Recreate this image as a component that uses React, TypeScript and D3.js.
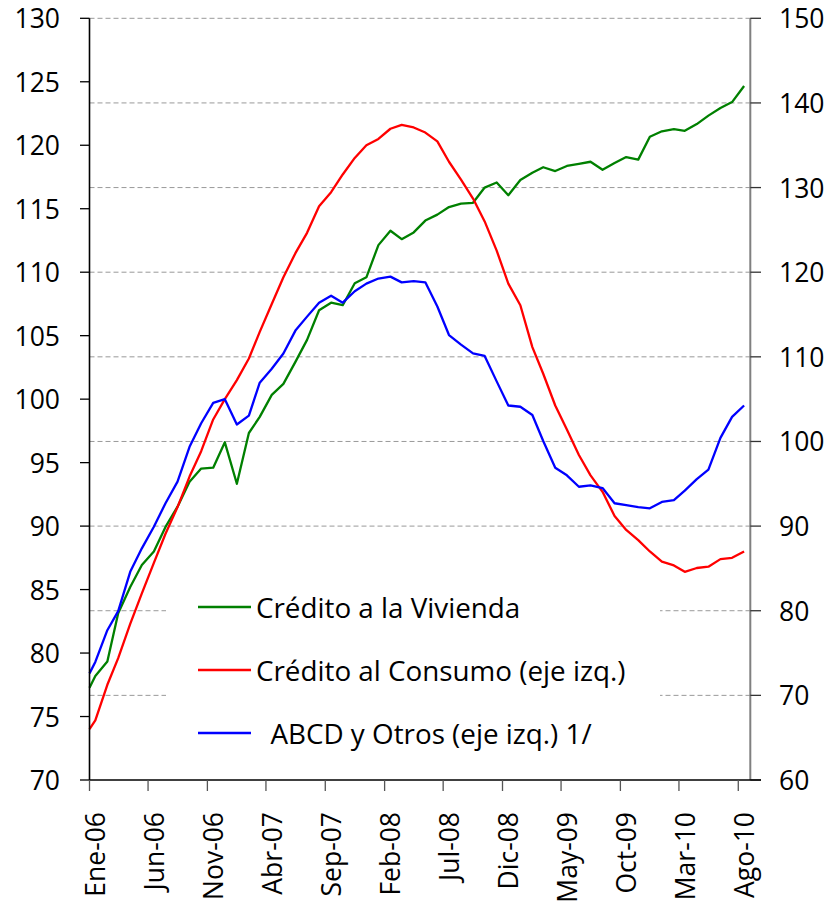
import * as d3 from "d3"

// Índices (base 100), mensual Ene-06 a Ago-10
const viviendaData = [
  70.9, 72.3, 74.0, 79.7, 82.8, 85.4, 87.0, 89.9, 92.3, 95.25, 96.8, 96.9, 99.9, 95.0, 101.0, 102.9,
  105.5, 106.8, 109.4, 112.0, 115.5, 116.4, 116.1, 118.7, 119.4, 123.2, 124.9, 123.9, 124.7, 126.1,
  126.8, 127.7, 128.1, 128.2, 130.0, 130.6, 129.1, 130.9, 131.75, 132.4, 131.95, 132.55, 132.8,
  133.05, 132.1, 132.9, 133.6, 133.3, 136.0, 136.65, 136.9, 136.7, 137.5, 138.5, 139.4, 140.1, 142.0,
]
const consumoData = [
  74.0, 74.7, 77.5, 79.6, 82.3, 84.7, 87.1, 89.4, 91.5, 93.9, 95.9, 98.4, 100.0, 101.5, 103.2, 105.3,
  107.5, 109.6, 111.5, 113.1, 115.2, 116.3, 117.7, 119.0, 120.0, 120.5, 121.3, 121.6, 121.4, 121.0,
  120.3, 118.7, 117.3, 115.8, 114.0, 111.7, 109.1, 107.4, 104.1, 102.0, 99.5, 97.6, 95.6, 94.0, 92.7,
  90.8, 89.7, 88.9, 88.0, 87.2, 86.9, 86.4, 86.7, 86.8, 87.4, 87.5, 88.0,
]
const abcdData = [
  78.4, 79.3, 81.8, 83.3, 86.4, 88.25, 89.95, 91.8, 93.5, 96.25, 98.1, 99.7, 100.0, 98.0, 98.7, 101.3,
  102.4, 103.6, 105.4, 106.5, 107.6, 108.15, 107.6, 108.5, 109.1, 109.5, 109.65, 109.2, 109.3, 109.2,
  107.3, 105.05, 104.3, 103.6, 103.4, 101.4, 99.5, 99.4, 98.75, 96.7, 94.6, 94.0, 93.1, 93.2, 93.0,
  91.8, 91.66, 91.5, 91.4, 91.9, 92.05, 92.8, 93.7, 94.45, 96.95, 98.6, 99.5,
]

const mesesAbrev = ["Ene", "Feb", "Mar", "Abr", "May", "Jun", "Jul", "Ago", "Sep", "Oct", "Nov", "Dic"]

const seriesNames = ["Crédito a la Vivienda", "Crédito al Consumo (eje izq.)", "  ABCD y Otros (eje izq.) 1/"]
const seriesColors = ["#008000", "#ff0000", "#0000ff"]

const leftTicks = d3.range(70, 131, 5)
const rightTicks = d3.range(60, 151, 10)

const inicio = new Date(2006, 0, 1)
const fin = new Date(2010, 8, 1)
// primer dato al inicio del eje, luego a mitad de cada mes
const fechas = [inicio, ...d3.timeMonth.range(inicio, fin).map((d) => d3.timeDay.offset(d, 15))]

const W = 831
const H = 910
const FONT = "'Open Sans', sans-serif"

export default function App() {
  const x = d3.scaleTime().domain([inicio, fin]).range([89.5, 750.3])
  const yL = d3.scaleLinear().domain([70, 130]).range([780, 18.3])
  const yR = d3.scaleLinear().domain([60, 150]).range([780, 18.3])

  const lineL = d3
    .line<number>()
    .x((_, i) => x(fechas[i]))
    .y((d) => yL(d))
  const lineR = d3
    .line<number>()
    .x((_, i) => x(fechas[i]))
    .y((d) => yR(d))

  const xTicks = d3.timeMonth.range(inicio, fin, 5)
  const fmt = (d: Date) => `${mesesAbrev[d.getMonth()]}-${String(d.getFullYear()).slice(2)}`

  const paths = [lineR(viviendaData), lineL(consumoData), lineL(abcdData)]
  const legendY = [607, 670, 733]

  return (
    <div style={{ position: "absolute", left: 0, top: 0 }}>
      <svg width={W} height={H} style={{ display: "block", background: "#fff" }} fontFamily={FONT}>
        {/* grid */}
        {rightTicks
          .filter((t) => t > 60)
          .map((t) => (
            <line
              key={t}
              x1={89.5}
              x2={750.3}
              y1={yR(t)}
              y2={yR(t)}
              stroke="#999"
              strokeWidth={1}
              strokeDasharray="5,3"
            />
          ))}

        {/* series */}
        {paths.map((p, i) => (
          <path key={i} d={p ?? ""} fill="none" stroke={seriesColors[i]} strokeWidth={2.3} strokeLinejoin="round" />
        ))}

        {/* legend */}
        <rect x={166} y={575} width={494} height={190} fill="#fff" />
        {seriesNames.map((n, i) => (
          <g key={n}>
            <line x1={198} x2={251} y1={legendY[i]} y2={legendY[i]} stroke={seriesColors[i]} strokeWidth={2.3} />
            <text
              x={256}
              y={legendY[i]}
              dominantBaseline="central"
              fontSize={27.8}
              fill="#000"
              style={{ whiteSpace: "pre" }}
            >
              {n}
            </text>
          </g>
        ))}

        {/* left axis */}
        <line x1={89.5} x2={89.5} y1={yL(130)} y2={yL(70)} stroke="#000" strokeWidth={1.6} />
        {leftTicks.map((t) => (
          <g key={t}>
            <line x1={80} x2={89.5} y1={yL(t)} y2={yL(t)} stroke="#000" strokeWidth={1.3} />
            <text x={60} y={yL(t)} textAnchor="end" dominantBaseline="central" fontSize={26.5}>
              {t}
            </text>
          </g>
        ))}

        {/* right axis */}
        <line x1={750.3} x2={750.3} y1={yR(150)} y2={yR(60)} stroke="#808080" strokeWidth={2} />
        {rightTicks.map((t) => (
          <g key={t}>
            <line x1={750.3} x2={761} y1={yR(t)} y2={yR(t)} stroke="#333" strokeWidth={1.3} />
            <text x={779} y={yR(t)} dominantBaseline="central" fontSize={26.5}>
              {t}
            </text>
          </g>
        ))}

        {/* x axis */}
        <line x1={89.5} x2={761} y1={780} y2={780} stroke="#000" strokeWidth={1.6} />
        {xTicks.map((d) => (
          <g key={+d}>
            <line x1={x(d)} x2={x(d)} y1={780} y2={791} stroke="#555" strokeWidth={1.3} />
            <text
              transform={`translate(${x(d3.timeDay.offset(d, 15))},812) rotate(-90)`}
              textAnchor="end"
              dominantBaseline="central"
              fontSize={26.5}
            >
              {fmt(d)}
            </text>
          </g>
        ))}
      </svg>
    </div>
  )
}
